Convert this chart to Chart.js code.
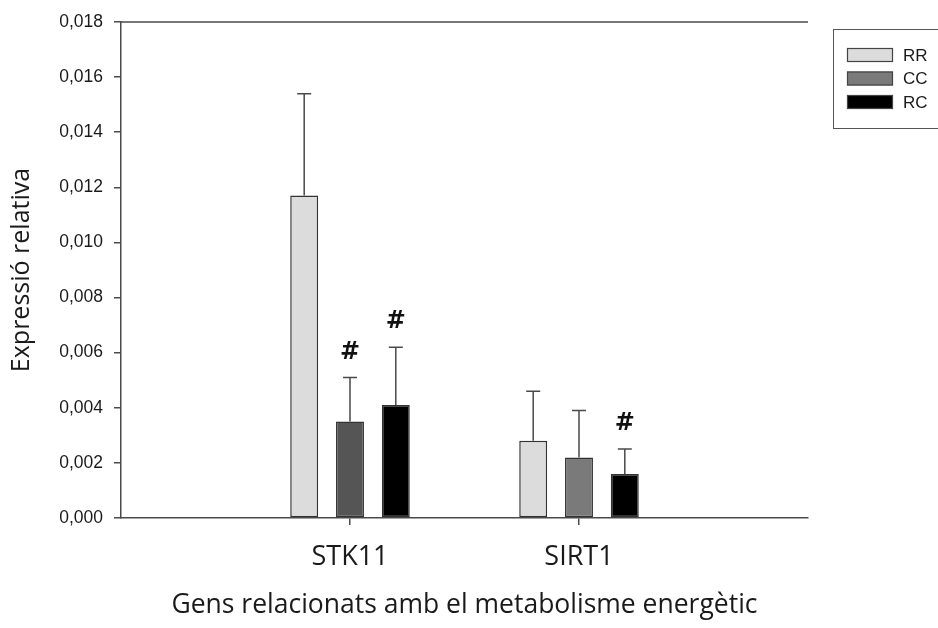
<!DOCTYPE html>
<html>
<head>
<meta charset="utf-8">
<script src="https://cdn.jsdelivr.net/npm/chart.js@4/dist/chart.umd.min.js"></script>
<style>
  html, body { margin: 0; padding: 0; background: #fff; }
  #wrap { width: 938px; height: 628px; }
</style>
</head>
<body>
<div id="wrap"><canvas id="chart" width="938" height="628"></canvas></div>
<script>
// empty slots at both ends give the axis its side margins
const genes = ["", "STK11", "SIRT1", ""];
const groups = ["RR", "CC", "RC"];

const meanRR = [null, 0.0117, 0.0028, null];
const meanCC = [null, 0.0035, 0.0022, null];
const meanRC = [null, 0.0041, 0.0016, null];

const sdRR = [null, 0.0037, 0.0018, null];
const sdCC = [null, 0.0016, 0.0017, null];
const sdRC = [null, 0.0021, 0.0009, null];

// "#" marks: significant vs RR
const sigRR = [false, false, false, false];
const sigCC = [false, true, false, false];
const sigRC = [false, true, true, false];

const yTicks = [0, 0.002, 0.004, 0.006, 0.008, 0.010, 0.012, 0.014, 0.016, 0.018];

const LINE = "#4a4a4a";
const TEXT = "#1a1a1a";
const legendColors = ["#dcdcdc", "#7a7a7a", "#000000"];

const errorBars = {
  id: "errorBars",
  afterDatasetsDraw(chart) {
    const { ctx, scales: { y } } = chart;
    ctx.save();
    chart.data.datasets.forEach((ds, di) => {
      const meta = chart.getDatasetMeta(di);
      meta.data.forEach((bar, i) => {
        const v = ds.data[i];
        if (v == null) return;
        const top = y.getPixelForValue(v + ds.sd[i]);
        const base = y.getPixelForValue(v);
        ctx.strokeStyle = LINE;
        ctx.lineWidth = 1.5;
        ctx.beginPath();
        ctx.moveTo(bar.x, base);
        ctx.lineTo(bar.x, top);
        ctx.moveTo(bar.x - 7, top);
        ctx.lineTo(bar.x + 7, top);
        ctx.stroke();
        if (ds.sig[i]) {
          ctx.fillStyle = "#111";
          ctx.font = "bold 24px 'DejaVu Sans', sans-serif";
          ctx.textAlign = "center";
          ctx.textBaseline = "middle";
          ctx.fillText("#", bar.x, top - 25);
        }
      });
    });
    ctx.restore();
  },
};

const frame = {
  id: "frame",
  afterDraw(chart) {
    const { ctx, chartArea: a } = chart;
    ctx.save();
    ctx.strokeStyle = LINE;
    ctx.lineWidth = 1.5;
    ctx.beginPath();
    ctx.moveTo(a.left, a.top);
    ctx.lineTo(a.right, a.top);
    ctx.stroke();

    // legend box, runs off the right edge
    ctx.lineWidth = 1;
    ctx.strokeStyle = "#555";
    ctx.strokeRect(833.5, 29.5, 120, 99);
    ctx.font = "17px 'Liberation Sans', Arial, sans-serif";
    ctx.textBaseline = "middle";
    ctx.textAlign = "left";
    groups.forEach((g, i) => {
      const cy = 55 + i * 23.5;
      ctx.fillStyle = legendColors[i];
      ctx.fillRect(847, cy - 7, 46, 14);
      ctx.strokeStyle = "#444";
      ctx.lineWidth = 1.2;
      ctx.strokeRect(847.5, cy - 6.5, 45, 13);
      ctx.fillStyle = TEXT;
      ctx.fillText(g, 903, cy + 1);
    });
    ctx.restore();
  },
};

function makeSet(label, data, sd, sig, color) {
  return {
    label,
    data,
    sd,
    sig,
    backgroundColor: color,
    borderColor: "#333",
    borderWidth: 1.5,
    borderSkipped: false,
    categoryPercentage: 0.6,
    barPercentage: 0.61,
  };
}

new Chart(document.getElementById("chart"), {
  type: "bar",
  data: {
    labels: genes,
    datasets: [
      makeSet(groups[0], meanRR, sdRR, sigRR, "#dcdcdc"),
      makeSet(groups[1], meanCC, sdCC, sigCC, ["#555555", "#555555", "#7a7a7a", "#7a7a7a"]),
      makeSet(groups[2], meanRC, sdRC, sigRC, "#000000"),
    ],
  },
  options: {
    responsive: false,
    animation: false,
    devicePixelRatio: 1,
    layout: { padding: { top: 22, right: 130, left: 0, bottom: 0 } },
    plugins: { legend: { display: false }, tooltip: { enabled: false } },
    scales: {
      x: {
        offset: false,
        grid: {
          offset: false,
          drawOnChartArea: false,
          tickLength: 7,
          lineWidth: 1.5,
          color: (c) => (c.tick && c.tick.label ? LINE : "rgba(0,0,0,0)"),
        },
        border: { display: true, color: LINE, width: 1.5 },
        ticks: {
          autoSkip: false,
          maxRotation: 0,
          padding: 16,
          color: TEXT,
          font: { family: "'Open Sans', sans-serif", size: 27 },
        },
        title: {
          display: true,
          text: "Gens relacionats amb el metabolisme energètic",
          color: TEXT,
          padding: { top: 0, bottom: 7 },
          font: { family: "'Open Sans', sans-serif", size: 26.5 },
        },
        afterFit: (s) => { s.height = 110; },
      },
      y: {
        min: 0,
        max: 0.018,
        afterBuildTicks: (s) => { s.ticks = yTicks.map((v) => ({ value: v })); },
        grid: { drawOnChartArea: false, tickLength: 7, lineWidth: 1.5, color: LINE },
        border: { display: true, color: LINE, width: 1.5 },
        ticks: {
          padding: 11,
          color: TEXT,
          font: { family: "'Liberation Sans', Arial, sans-serif", size: 17.5 },
          callback: (v) => v.toFixed(3).replace(".", ","),
        },
        title: {
          display: true,
          text: "Expressió relativa",
          color: TEXT,
          padding: { top: 7, bottom: 0 },
          font: { family: "'Open Sans', sans-serif", size: 25 },
        },
        afterFit: (s) => { s.width = 121; },
      },
    },
  },
  plugins: [errorBars, frame],
});
</script>
</body>
</html>
